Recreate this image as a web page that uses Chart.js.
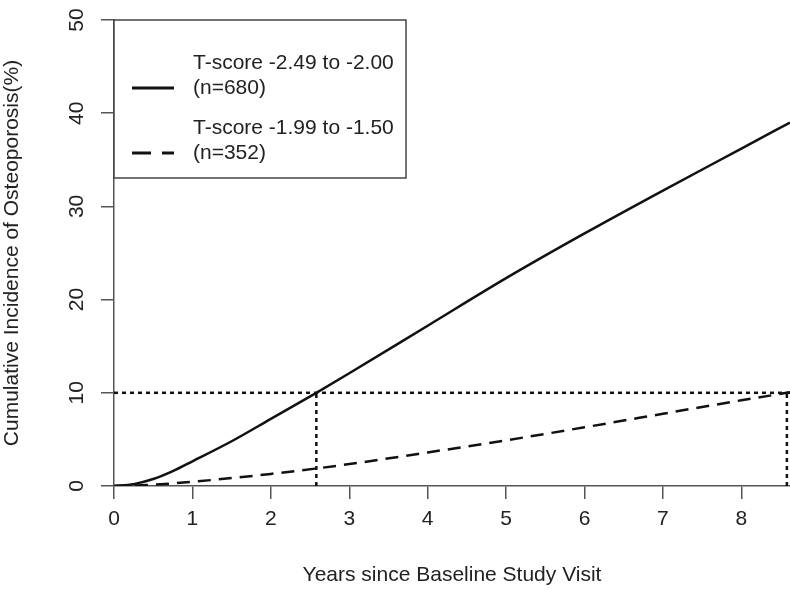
<!DOCTYPE html>
<html>
<head>
<meta charset="utf-8">
<script src="https://cdn.jsdelivr.net/npm/chart.js@4.4.1/dist/chart.umd.min.js"></script>
<style>
  html, body { margin: 0; padding: 0; background: #fff; }
  #wrap { width: 790px; height: 591px; }
</style>
</head>
<body>
<div id="wrap"><canvas id="chart" width="790" height="591"></canvas></div>
<script>
// values
const years = [0, 0.25, 0.5, 0.75, 1, 1.5, 2, 2.58, 3, 4, 5, 6, 7, 8, 8.62];
const lowScore = [0, 0.2, 0.75, 1.6, 2.65, 4.8, 7.2, 10, 12.1, 17.2, 22.3, 27.1, 31.7, 36.2, 39.0];   // T-score -2.49 to -2.00
const highScore = [0, 0.05, 0.15, 0.28, 0.45, 0.85, 1.3, 1.88, 2.35, 3.6, 4.9, 6.3, 7.75, 9.2, 10.05]; // T-score -1.99 to -1.50

const legendLabels = [['T-score -2.49 to -2.00', '(n=680)'], ['T-score -1.99 to -1.50', '(n=352)']];
const refLevel = 10;
const refYears = [2.58, 8.58];
const xMax = 8.62;
const xTicks = [0, 1, 2, 3, 4, 5, 6, 7, 8];
const yTicks = [0, 10, 20, 30, 40, 50];

const FONT = '"Liberation Sans", Arial, sans-serif';
const INK = '#111';

function pts(xs, ys) {
  return xs.map((x, i) => ({ x: x, y: ys[i] }));
}

const dotted = { borderColor: INK, borderWidth: 2.5, borderDash: [4, 4], pointRadius: 0, showLine: true, tension: 0 };

const datasets = [
  { data: [{ x: 0, y: refLevel }, { x: xMax, y: refLevel }], ...dotted },
  ...refYears.map(yr => ({ data: [{ x: yr, y: 0 }, { x: yr, y: refLevel }], ...dotted })),
  {
    data: pts(years, lowScore),
    borderColor: INK, borderWidth: 2.5, pointRadius: 0, showLine: true,
    cubicInterpolationMode: 'monotone'
  },
  {
    data: pts(years, highScore),
    borderColor: INK, borderWidth: 2.5, borderDash: [13, 8], pointRadius: 0, showLine: true,
    cubicInterpolationMode: 'monotone'
  }
];

// y tick labels are rotated (R style), legend has two-line entries
const extras = {
  id: 'extras',
  afterDraw(chart) {
    const ctx = chart.ctx;
    const y = chart.scales.y;
    const area = chart.chartArea;
    ctx.save();
    ctx.fillStyle = '#222';
    ctx.font = '21px ' + FONT;
    ctx.textAlign = 'center';
    ctx.textBaseline = 'middle';
    y.ticks.forEach(t => {
      ctx.save();
      ctx.translate(77, y.getPixelForValue(t.value));
      ctx.rotate(-Math.PI / 2);
      ctx.fillText(String(t.value), 0, 0);
      ctx.restore();
    });

    // legend box
    const left = area.left, top = area.top, w = 292, h = 158;
    ctx.fillStyle = '#fff';
    ctx.fillRect(left, top, w, h);
    ctx.strokeStyle = '#444';
    ctx.lineWidth = 1.5;
    ctx.strokeRect(left, top, w, h);

    ctx.fillStyle = '#222';
    ctx.textAlign = 'left';
    const rows = [{ y: top + 43, dash: [] }, { y: top + 108, dash: [19, 11] }];
    rows.forEach((r, i) => {
      ctx.fillText(legendLabels[i][0], left + 79, r.y);
      ctx.fillText(legendLabels[i][1], left + 79, r.y + 25);
      ctx.beginPath();
      ctx.setLineDash(r.dash);
      ctx.strokeStyle = INK;
      ctx.lineWidth = 3;
      ctx.moveTo(left + 18, r.y + 25);
      ctx.lineTo(left + 60, r.y + 25);
      ctx.stroke();
    });
    ctx.restore();
  }
};

new Chart(document.getElementById('chart'), {
  type: 'scatter',
  data: { datasets: datasets },
  plugins: [extras],
  options: {
    responsive: false,
    animation: false,
    layout: { padding: { top: 20, right: 0, left: 0, bottom: 0 } },
    plugins: { legend: { display: false }, tooltip: { enabled: false } },
    scales: {
      x: {
        type: 'linear',
        min: 0,
        max: xMax,
        afterBuildTicks: s => { s.ticks = xTicks.map(v => ({ value: v })); },
        afterFit: s => { s.height = 105; },
        ticks: { stepSize: 1, color: '#222', font: { family: FONT, size: 21 }, padding: 8, maxRotation: 0, autoSkip: false },
        grid: { drawOnChartArea: false, drawTicks: true, tickLength: 13, color: '#555', lineWidth: 1.5 },
        border: { display: true, color: '#555', width: 1.5 },
        title: {
          display: true,
          text: 'Years since Baseline Study Visit',
          color: '#222',
          font: { family: FONT, size: 21 },
          padding: { top: 0, bottom: 3 }
        }
      },
      y: {
        type: 'linear',
        min: 0,
        max: 50,
        afterBuildTicks: s => { s.ticks = yTicks.map(v => ({ value: v })); },
        afterFit: s => { s.width = 114; },
        ticks: { display: false, stepSize: 10 },
        grid: { drawOnChartArea: false, drawTicks: true, tickLength: 13, color: '#555', lineWidth: 1.5 },
        border: { display: true, color: '#555', width: 1.5 },
        title: {
          display: true,
          text: 'Cumulative Incidence of Osteoporosis(%)',
          color: '#222',
          font: { family: FONT, size: 21 },
          padding: { top: 0, bottom: 14 }
        }
      }
    }
  }
});
</script>
</body>
</html>
